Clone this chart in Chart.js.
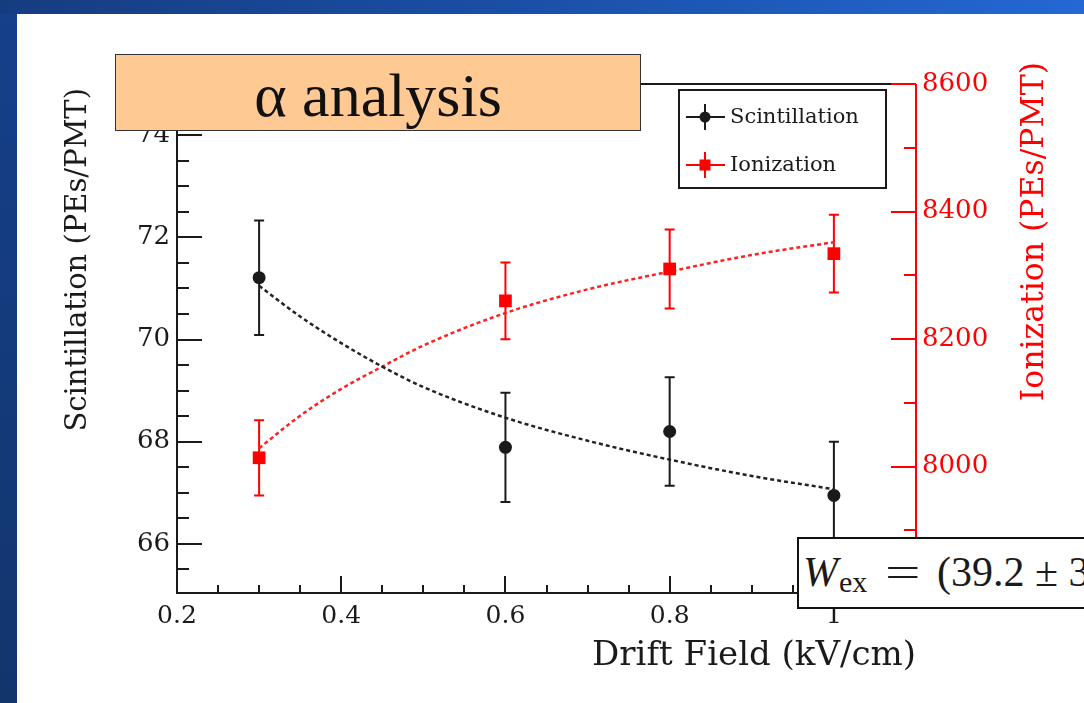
<!DOCTYPE html>
<html>
<head>
<meta charset="utf-8">
<title>α analysis</title>
<script src="https://cdn.jsdelivr.net/npm/chart.js@4.4.0/dist/chart.umd.min.js"></script>
<style>
    html, body { margin: 0; padding: 0; width: 1084px; height: 703px; overflow: hidden; }
    body { position: relative; background: linear-gradient(90deg, #163c80 0%, #1a4ea4 45%, #2468d4 100%); }
    .leftbar { position: absolute; left: 0; top: 14px; width: 17px; bottom: 0; background: linear-gradient(180deg, #15408a, #12356c); }
    .slide { position: absolute; left: 17px; top: 14px; right: 0; bottom: 0; background: #fff; }
    #chart { position: absolute; left: 0; top: 0; }
    .tag {
        position: absolute; left: 115px; top: 54px; width: 524px; height: 75px;
        background: #ffc994; border: 1.5px solid #333;
    }
    .tag span {
        position: absolute; left: 0; right: 0; top: 9px; text-align: center;
        font: 62px/62px "Liberation Serif", serif; color: #111;
    }
    .wex {
        position: absolute; left: 797px; top: 537px; width: 340px; height: 68px;
        background: #fff; border: 2px solid #111;
    }
    .wex div {
        position: absolute; left: 4px; top: 12px; white-space: nowrap;
        font: 42px/42px "Liberation Serif", serif; color: #1a1a1a;
    }
    .wex i { margin-right: 1px; }
    .wex sub { font-size: 30px; vertical-align: -6px; }
    .wex .eq { display: inline-block; transform: scaleX(1.5); margin: 0 22px 0 24px; }
</style>
</head>
<body>
<div class="leftbar"></div>
<div class="slide"></div>
<canvas id="chart" width="1084" height="703"></canvas>
<div class="tag"><span>α analysis</span></div>
<div class="wex"><div><i>W</i><sub>ex</sub><span class="eq">=</span>(39.2 ± 3</div></div>
<script>
// measured points (drift field in kV/cm)
const fieldKV = [0.3, 0.6, 0.8, 1.0];
const scintVals = [71.21, 67.89, 68.20, 66.95];
const scintErr = [1.12, 1.07, 1.06, 1.05];
const ionVals = [8014, 8260, 8310, 8334];
const ionErr = [59, 60, 62, 61];

// fit curves
const fitField = [0.3, 0.35, 0.4, 0.45, 0.5, 0.6, 0.7, 0.8, 0.9, 1.0];
const scintFit = [71.05, 70.45, 69.93, 69.47, 69.07, 68.47, 68.02, 67.65, 67.33, 67.07];
const ionFit = [8029, 8080, 8122, 8157, 8190, 8241, 8278, 8306, 8332, 8352];

// axis ranges and ticks
const xRange = [0.2, 1.1];
const scintRange = [65.04, 75];
const ionRange = [7802, 8600];
const xLabels = [0.2, 0.4, 0.6, 0.8, 1];
const scintLabels = [66, 68, 70, 72, 74];
const ionTicks = [7900, 8000, 8100, 8200, 8300, 8400, 8500, 8600];
const ionLabels = [8000, 8200, 8400, 8600];

const BLACK = '#1a1a1a';
const RED = '#ff0000';
const SERIF = '"DejaVu Serif", serif';

const pairs = (xs, ys) => xs.map((x, i) => ({ x: x, y: ys[i] }));
const onStep = (v, s) => Math.abs(v / s - Math.round(v / s)) < 1e-6;
const isLabel = (list, v) => list.some(l => Math.abs(l - v) < 1e-6);

// ROOT style ticks drawn inside the frame
const axisTicks = {
    id: 'axisTicks',
    beforeDatasetsDraw(chart) {
        const { ctx, chartArea: a, scales } = chart;
        ctx.save();
        ctx.lineWidth = 2;
        ctx.strokeStyle = BLACK;
        ctx.beginPath();
        ctx.moveTo(a.left, a.top);
        ctx.lineTo(a.right, a.top);
        ctx.moveTo(a.left, a.top);
        ctx.lineTo(a.left, a.bottom);
        ctx.lineTo(a.right, a.bottom);

        scales.y.ticks.forEach(t => {
            if (!onStep(t.value, 0.5)) return;
            const py = Math.round(scales.y.getPixelForValue(t.value));
            ctx.moveTo(a.left, py);
            ctx.lineTo(a.left + (isLabel(scintLabels, t.value) ? 25 : 12), py);
        });
        scales.x.ticks.forEach(t => {
            if (!onStep(t.value, 0.05)) return;
            const px = Math.round(scales.x.getPixelForValue(t.value));
            ctx.moveTo(px, a.bottom);
            ctx.lineTo(px, a.bottom - (isLabel(xLabels, t.value) ? 17 : 8));
        });
        ctx.stroke();

        ctx.strokeStyle = RED;
        ctx.beginPath();
        ctx.moveTo(a.right, a.top);
        ctx.lineTo(a.right, a.bottom);
        scales.y2.ticks.forEach(t => {
            const py = Math.round(scales.y2.getPixelForValue(t.value));
            ctx.moveTo(a.right, py);
            ctx.lineTo(a.right - (isLabel(ionLabels, t.value) ? 25 : 12), py);
        });
        ctx.stroke();
        ctx.restore();
    }
};

const errorBars = {
    id: 'errorBars',
    beforeDatasetsDraw(chart) {
        const ctx = chart.ctx;
        ctx.save();
        chart.data.datasets.forEach((ds, i) => {
            if (!ds.errors) return;
            const meta = chart.getDatasetMeta(i);
            const ys = chart.scales[ds.yAxisID];
            ctx.strokeStyle = ds.borderColor;
            ctx.lineWidth = 2;
            meta.data.forEach((pt, k) => {
                const v = ds.data[k].y;
                const top = ys.getPixelForValue(v + ds.errors[k]);
                const bot = ys.getPixelForValue(v - ds.errors[k]);
                ctx.beginPath();
                ctx.moveTo(pt.x, top);
                ctx.lineTo(pt.x, bot);
                ctx.moveTo(pt.x - 5, top);
                ctx.lineTo(pt.x + 5, top);
                ctx.moveTo(pt.x - 5, bot);
                ctx.lineTo(pt.x + 5, bot);
                ctx.stroke();
            });
        });
        ctx.restore();
    }
};

const titlesAndLegend = {
    id: 'titlesAndLegend',
    afterDraw(chart) {
        const { ctx, chartArea: a } = chart;
        ctx.save();

        // axis titles
        ctx.textBaseline = 'middle';
        ctx.font = '29px ' + SERIF;
        ctx.fillStyle = BLACK;
        ctx.save();
        ctx.translate(a.left - 99, a.top + 4);
        ctx.rotate(-Math.PI / 2);
        ctx.textAlign = 'right';
        ctx.fillText('Scintillation (PEs/PMT)', 0, 0);
        ctx.restore();

        ctx.fillStyle = RED;
        ctx.font = '31.5px ' + SERIF;
        ctx.save();
        ctx.translate(a.right + 119, a.top - 22);
        ctx.rotate(-Math.PI / 2);
        ctx.textAlign = 'right';
        ctx.fillText('Ionization (PEs/PMT)', 0, 0);
        ctx.restore();

        ctx.fillStyle = BLACK;
        ctx.font = '34px ' + SERIF;
        ctx.textAlign = 'right';
        ctx.fillText('Drift Field (kV/cm)', a.right, a.bottom + 63);

        // legend box
        const bx = a.right - 237, by = a.top + 6, bw = 207, bh = 98;
        ctx.fillStyle = '#fff';
        ctx.fillRect(bx, by, bw, bh);
        ctx.strokeStyle = BLACK;
        ctx.lineWidth = 2;
        ctx.strokeRect(bx, by, bw, bh);

        const rows = [
            { label: 'Scintillation', color: BLACK, shape: 'circle', y: by + 27 },
            { label: 'Ionization', color: RED, shape: 'square', y: by + 75 }
        ];
        rows.forEach(r => {
            const mx = bx + 26;
            ctx.strokeStyle = r.color;
            ctx.fillStyle = r.color;
            ctx.lineWidth = 2;
            ctx.beginPath();
            ctx.moveTo(bx + 7, r.y);
            ctx.lineTo(bx + 46, r.y);
            ctx.moveTo(mx, r.y - 13);
            ctx.lineTo(mx, r.y + 13);
            ctx.stroke();
            ctx.beginPath();
            if (r.shape === 'circle') {
                ctx.arc(mx, r.y, 5.5, 0, Math.PI * 2);
            } else {
                ctx.rect(mx - 5.5, r.y - 5.5, 11, 11);
            }
            ctx.fill();
            ctx.fillStyle = BLACK;
            ctx.font = '21px ' + SERIF;
            ctx.textAlign = 'left';
            ctx.fillText(r.label, bx + 51, r.y + 1);
        });
        ctx.restore();
    }
};

new Chart(document.getElementById('chart'), {
    type: 'scatter',
    data: {
        datasets: [{
            label: 'Scintillation',
            data: pairs(fieldKV, scintVals),
            errors: scintErr,
            yAxisID: 'y',
            borderColor: BLACK,
            backgroundColor: BLACK,
            pointStyle: 'circle',
            pointRadius: 6.5,
            pointBorderWidth: 0,
            order: 1
        }, {
            label: 'Ionization',
            data: pairs(fieldKV, ionVals),
            errors: ionErr,
            yAxisID: 'y2',
            borderColor: RED,
            backgroundColor: RED,
            pointStyle: 'rect',
            pointRadius: 9,
            pointBorderWidth: 0,
            order: 1
        }, {
            label: 'Scintillation fit',
            data: pairs(fitField, scintFit),
            yAxisID: 'y',
            showLine: true,
            pointRadius: 0,
            borderColor: '#222',
            borderWidth: 2.5,
            borderDash: [4, 3],
            cubicInterpolationMode: 'monotone',
            order: 2
        }, {
            label: 'Ionization fit',
            data: pairs(fitField, ionFit),
            yAxisID: 'y2',
            showLine: true,
            pointRadius: 0,
            borderColor: '#ff2020',
            borderWidth: 2.5,
            borderDash: [4, 3],
            cubicInterpolationMode: 'monotone',
            order: 2
        }]
    },
    options: {
        responsive: false,
        animation: false,
        devicePixelRatio: 1,
        layout: { padding: { top: 84, left: 0, right: 0, bottom: 0 } },
        plugins: {
            legend: { display: false },
            tooltip: { enabled: false }
        },
        scales: {
            x: {
                type: 'linear',
                min: xRange[0],
                max: xRange[1],
                grid: { display: false, drawTicks: false },
                border: { display: false },
                afterFit: s => { s.height = 110; },
                ticks: {
                    stepSize: 0.05,
                    autoSkip: false,
                    maxRotation: 0,
                    padding: 8,
                    color: BLACK,
                    font: { family: SERIF, size: 25 },
                    callback: v => isLabel(xLabels, v) ? String(Math.round(v * 10) / 10) : ''
                }
            },
            y: {
                type: 'linear',
                position: 'left',
                min: scintRange[0],
                max: scintRange[1],
                grid: { display: false, drawTicks: false },
                border: { display: false },
                afterFit: s => { s.width = 177; },
                ticks: {
                    stepSize: 0.5,
                    autoSkip: false,
                    includeBounds: false,
                    padding: 7,
                    color: BLACK,
                    font: { family: SERIF, size: 26 },
                    callback: v => isLabel(scintLabels, v) ? String(v) : ''
                }
            },
            y2: {
                type: 'linear',
                position: 'right',
                min: ionRange[0],
                max: ionRange[1],
                grid: { display: false, drawTicks: false },
                border: { display: false },
                afterFit: s => { s.width = 168; },
                afterBuildTicks: s => { s.ticks = ionTicks.map(v => ({ value: v })); },
                ticks: {
                    autoSkip: false,
                    padding: 6,
                    color: RED,
                    font: { family: SERIF, size: 26 },
                    callback: v => isLabel(ionLabels, v) ? String(v) : ''
                }
            }
        }
    },
    plugins: [axisTicks, errorBars, titlesAndLegend]
});
</script>
</body>
</html>
